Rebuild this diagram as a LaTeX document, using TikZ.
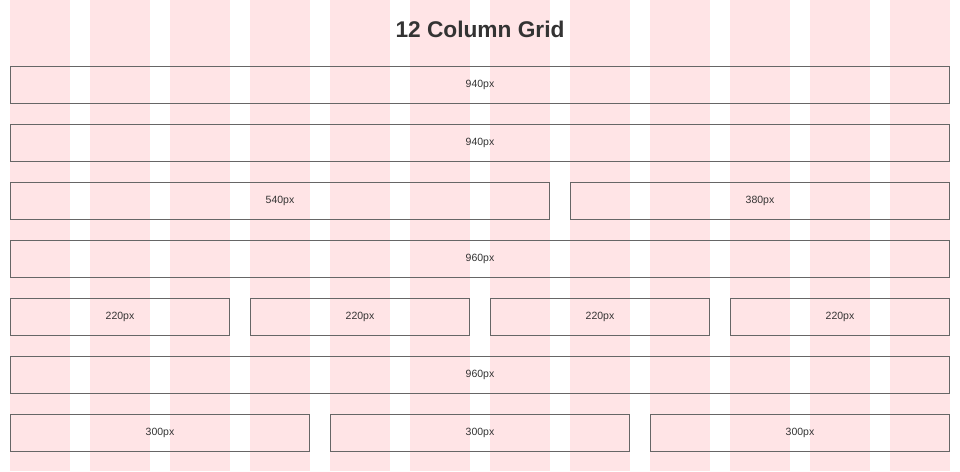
\documentclass[tikz,border=0pt]{standalone}
\usepackage{fontspec}
\setmainfont{Liberation Sans}
\definecolor{colpink}{RGB}{255,228,230}
\definecolor{boxline}{RGB}{102,102,102}
\definecolor{txt}{RGB}{51,51,51}
\tikzset{
  gridbox/.style={draw=boxline, line width=1pt, anchor=north west, inner sep=0pt,
    text=txt, font=\fontsize{10.5}{12}\selectfont, align=center},
  coltile/.style={fill=colpink, draw=none}
}
\begin{document}
\begin{tikzpicture}[x=1pt,y=-1pt]
\useasboundingbox (0,0) rectangle (960,471);
\foreach \i in {0,...,11}{
  \fill[colpink] (10+80*\i,0) rectangle (70+80*\i,471);
}
\node[text=txt, font=\bfseries\fontsize{22.7}{26}\selectfont] (title) at (480,29) {12 Column Grid};
% rows
\newcommand\gbox[5]{%
  \node[gridbox, minimum width=#3pt, minimum height=37pt] (#1) at (#2,#4) {#5};}
\gbox{r1}{10}{939}{66}{940px}
\gbox{r2}{10}{939}{124}{940px}
\gbox{r3a}{10}{539}{182}{540px}
\gbox{r3b}{570}{379}{182}{380px}
\gbox{r4}{10}{939}{240}{960px}
\gbox{r5a}{10}{219}{298}{220px}
\gbox{r5b}{250}{219}{298}{220px}
\gbox{r5c}{490}{219}{298}{220px}
\gbox{r5d}{730}{219}{298}{220px}
\gbox{r6}{10}{939}{356}{960px}
\gbox{r7a}{10}{299}{414}{300px}
\gbox{r7b}{330}{299}{414}{300px}
\gbox{r7c}{650}{299}{414}{300px}
\end{tikzpicture}
\end{document}
